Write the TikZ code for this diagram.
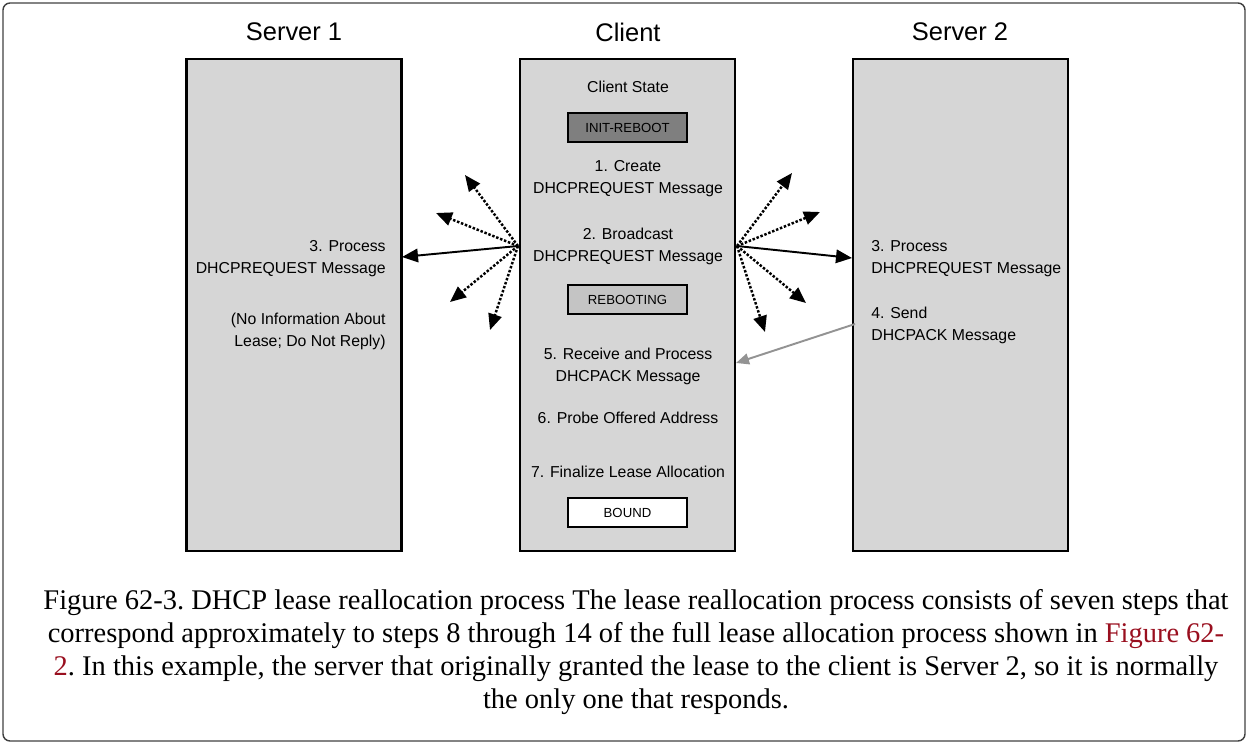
\documentclass[tikz,border=0pt]{standalone}
\usepackage{fontspec}
\setmainfont{Liberation Serif}
\newfontfamily\diagfont{Liberation Sans}
\usetikzlibrary{arrows.meta}
\definecolor{boxgray}{HTML}{D6D6D6}
\definecolor{darkstate}{HTML}{7F7F7F}
\definecolor{midstate}{HTML}{C4C4C4}
\definecolor{linkred}{HTML}{990F1F}
\definecolor{replygray}{HTML}{939393}

\begin{document}
\begin{tikzpicture}[x=0.2mm,y=-0.2mm,
  lane/.style={draw,line width=1.6pt,fill=boxgray,minimum width=43mm,minimum height=98.4mm,inner sep=0pt},
  lanetitle/.style={font=\diagfont\fontsize{14.5}{16}\selectfont},
  lbl/.style={font=\diagfont\fontsize{9}{12.5}\selectfont,inner sep=0pt},
  statebox/.style={draw,line width=1.4pt,minimum width=23.8mm,minimum height=5.8mm,inner sep=0pt,font=\diagfont\fontsize{7.5}{9}\selectfont},
  solidarrow/.style={-{Triangle[length=3.2mm,width=2.7mm]},line width=1.1pt},
  dotarrow/.style={-{Triangle[length=3.2mm,width=2.7mm]},line width=1.4pt,densely dotted},
  replyarrow/.style={-{Triangle[length=2.6mm,width=2.2mm]},line width=1.1pt,replygray},
  caption/.style={font=\fontsize{16.2}{18.7}\selectfont\frenchspacing,align=center,inner sep=0pt}]
\useasboundingbox (0,0) rectangle (1248,744);
\draw[black!75,line width=0.8pt,rounded corners=4pt] (3,3) rectangle (1245,741);

\node[lanetitle] (t1) at (294,32) {Server 1};
\node[lanetitle] (tc) at (628,32) {Client};
\node[lanetitle] (t2) at (960,32) {Server 2};
\node[lane] (s1) at (294,305) {};
\node[lane] (cl) at (627.5,305) {};
\node[lane] (s2) at (960.5,305) {};

\node[lbl] (cstate) at (628,87) {Client State};
\node[statebox,fill=darkstate] (initreboot) at (627.5,127.5) {INIT-REBOOT};
\node[lbl,align=center] (step1) at (628,179) {1. Create\\DHCPREQUEST Message};
\node[lbl,align=center] (step2) at (628,246) {2. Broadcast\\DHCPREQUEST Message};
\node[statebox,fill=midstate] (rebooting) at (627.5,299.5) {REBOOTING};
\node[lbl,align=center] (step5) at (628,366) {5. Receive and Process\\DHCPACK Message};
\node[lbl] (step6) at (628,418) {6. Probe Offered Address};
\node[lbl] (step7) at (628,472) {7. Finalize Lease Allocation};
\node[statebox,fill=white] (bound) at (627.5,512.5) {BOUND};

\node[lbl,anchor=east,align=right] (s1proc) at (386,259) {3. Process\\DHCPREQUEST Message};
\node[lbl,anchor=east,align=right] (s1note) at (386,331) {(No Information About\\Lease; Do Not Reply)};
\node[lbl,anchor=west,align=left] (s2proc) at (871,259) {3. Process\\DHCPREQUEST Message};
\node[lbl,anchor=west,align=left] (s2send) at (871,325) {4. Send\\DHCPACK Message};

\coordinate (lfan) at (518,246);
\coordinate (rfan) at (737,246);
\coordinate (lhit) at (402,257);
\coordinate (rhit) at (852,258);
\foreach \n/\x/\y in {l1/465/175, l2/436/213, l3/450/302, l4/490/330,
                      r1/792/173, r2/820/212, r3/806/303, r4/765/332}
  \coordinate (\n) at (\x,\y);
\foreach \tip in {l1,l2,l3,l4}
  \draw[dotarrow] (lfan) -- (\tip);
\foreach \tip in {r1,r2,r3,r4}
  \draw[dotarrow] (rfan) -- (\tip);
\draw[solidarrow] (lfan) -- (lhit);
\draw[solidarrow] (rfan) -- (rhit);
\coordinate (ackout) at (855,324);
\coordinate (ackin) at (736,363);
\draw[replyarrow] (ackout) -- (ackin);

\node[caption] (cap) at (636,652) {Figure 62-3. DHCP lease reallocation process The lease reallocation process consists of seven steps that\\
correspond approximately to steps 8 through 14 of the full lease allocation process shown in \textcolor{linkred}{Figure 62-}\\
\textcolor{linkred}{2}. In this example, the server that originally granted the lease to the client is Server 2, so it is normally\\
the only one that responds.};
\end{tikzpicture}
\end{document}
